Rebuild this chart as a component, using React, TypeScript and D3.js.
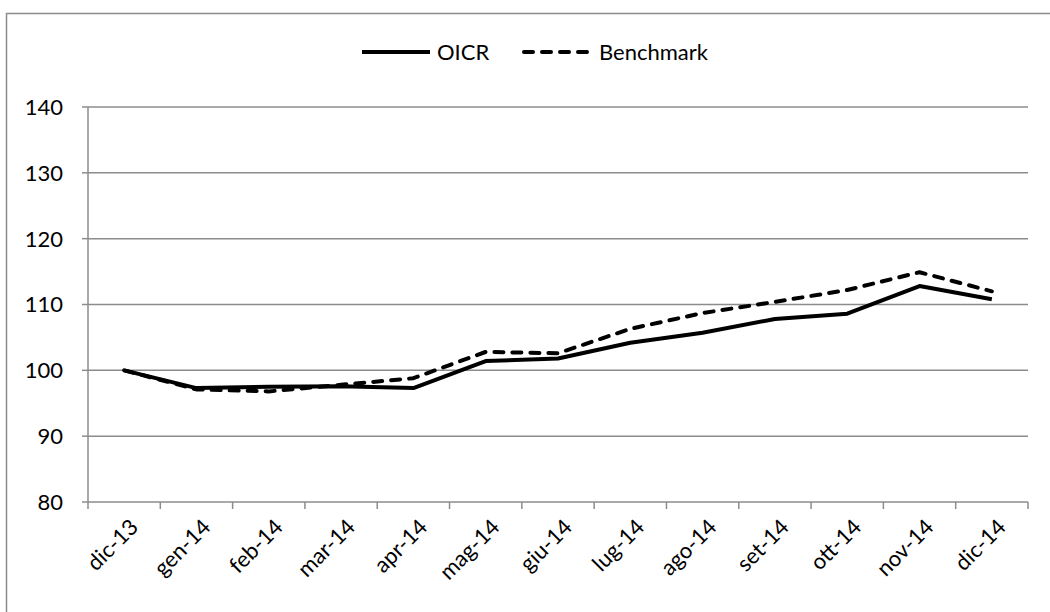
import React from 'react'
import * as d3 from 'd3'

const months = [
  'dic-13', 'gen-14', 'feb-14', 'mar-14', 'apr-14', 'mag-14', 'giu-14',
  'lug-14', 'ago-14', 'set-14', 'ott-14', 'nov-14', 'dic-14',
]
const oicr = [100, 97.3, 97.5, 97.6, 97.3, 101.4, 101.8, 104.2, 105.7, 107.8, 108.6, 112.8, 110.8]
const benchmark = [100, 97.1, 96.8, 97.8, 98.8, 102.8, 102.6, 106.3, 108.7, 110.4, 112.2, 114.9, 112.0]
const yTicks = [80, 90, 100, 110, 120, 130, 140]

const FONT = 'Lato, "Open Sans", sans-serif'

const App: React.FunctionComponent = () => {
  const width = 1050
  const height = 612
  const margin = { top: 107, left: 88, bottom: 110, right: 22 }

  const x = d3
    .scaleBand<string>()
    .domain(months)
    .range([margin.left, width - margin.right])
    .paddingInner(0)
    .paddingOuter(0)

  const y = d3
    .scaleLinear()
    .domain([80, 140])
    .range([height - margin.bottom, margin.top])

  const cx = (m: string) => (x(m) || 0) + x.bandwidth() / 2

  const line = d3
    .line<number>()
    .x((_, i) => cx(months[i]))
    .y(d => y(d))

  const grey = '#8c8c8c'
  const bounds = [...months.map(m => x(m) || 0), width - margin.right]

  return (
    <svg
      width={width}
      height={height}
      style={{ position: 'absolute', left: 0, top: 0, background: '#fff' }}
    >
      <rect x={6.5} y={13.5} width={1050} height={620} fill="none" stroke={grey} strokeWidth={1.5} />

      {yTicks.map(t => (
        <g key={t}>
          {t !== 80 && (
            <line x1={margin.left} x2={width - margin.right} y1={y(t)} y2={y(t)} stroke={grey} strokeWidth={1.5} />
          )}
          <line x1={margin.left - 6} x2={margin.left} y1={y(t)} y2={y(t)} stroke={grey} strokeWidth={1.5} />
          <text x={63} y={y(t)} dy="0.36em" textAnchor="end" fontFamily={FONT} fontSize={22} fill="#000">
            {t}
          </text>
        </g>
      ))}

      <line x1={margin.left} x2={margin.left} y1={margin.top} y2={y(80)} stroke={grey} strokeWidth={1.5} />
      <line x1={margin.left} x2={width - margin.right} y1={y(80)} y2={y(80)} stroke={grey} strokeWidth={1.5} />
      {bounds.map((b, i) => (
        <line key={i} x1={b} x2={b} y1={y(80)} y2={y(80) + 7} stroke={grey} strokeWidth={1.5} />
      ))}

      {months.map(m => (
        <text
          key={m}
          transform={`translate(${cx(m) + 10}, ${y(80) + 21}) rotate(-45)`}
          textAnchor="end"
          dy="0.35em"
          fontFamily={FONT}
          fontSize={22}
          fill="#000"
        >
          {m}
        </text>
      ))}

      <path d={line(benchmark) || ''} fill="none" stroke="#000" strokeWidth={4} strokeDasharray="9 9" strokeLinecap="round" strokeLinejoin="round" />
      <path d={line(oicr) || ''} fill="none" stroke="#000" strokeWidth={4} strokeLinejoin="round" />

      <g fontFamily={FONT} fontSize={22} fill="#000">
        <line x1={362} x2={430} y1={52} y2={52} stroke="#000" strokeWidth={4} />
        <text x={437} y={52} dy="0.36em">OICR</text>
        <line x1={524} x2={591} y1={52} y2={52} stroke="#000" strokeWidth={4} strokeDasharray="9 9" strokeLinecap="round" />
        <text x={599} y={52} dy="0.36em">Benchmark</text>
      </g>
    </svg>
  )
}

export default App
